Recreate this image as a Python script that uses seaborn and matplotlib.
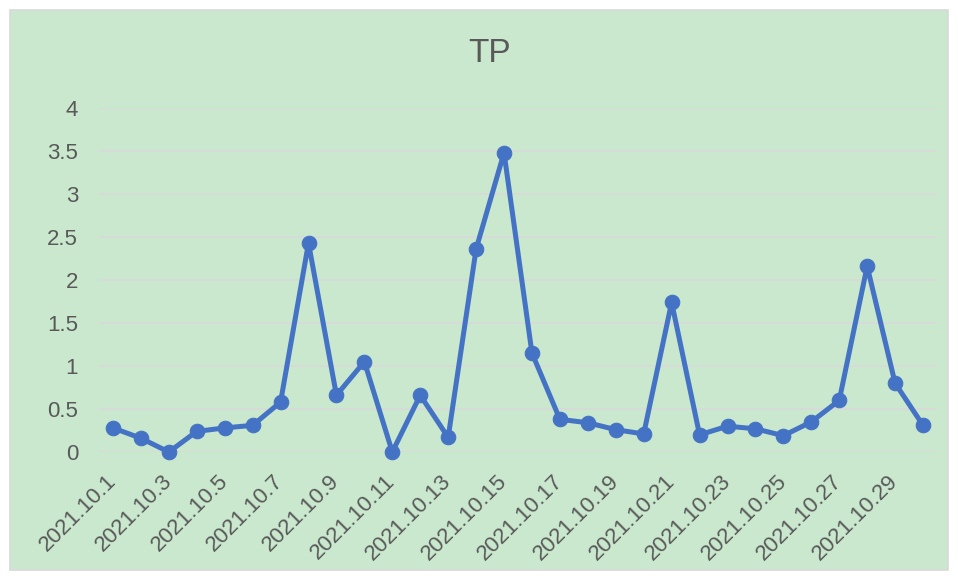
import matplotlib
matplotlib.use("Agg")
import pandas as pd
import seaborn as sns
import matplotlib.pyplot as plt
from matplotlib.patches import Rectangle

# === Data ===
dates = [f"2021.10.{d}" for d in range(1, 31)]
tp = [0.28, 0.16, 0.00, 0.24, 0.28, 0.31, 0.58, 2.43, 0.66, 1.05,
      0.00, 0.66, 0.17, 2.36, 3.48, 1.15, 0.38, 0.34, 0.26, 0.21,
      1.74, 0.20, 0.30, 0.27, 0.19, 0.35, 0.60, 2.16, 0.80, 0.31]
y_ticks = [0, 0.5, 1, 1.5, 2, 2.5, 3, 3.5, 4]
y_labels = ["0", "0.5", "1", "1.5", "2", "2.5", "3", "3.5", "4"]

df = pd.DataFrame({"date": dates, "tp": tp, "idx": range(len(dates))})

# === Style ===
sns.set_theme(style="white")
plt.rcParams["font.family"] = ["Liberation Sans", "DejaVu Sans"]
green = "#C9E8CE"
text_col = "#595959"
line_col = "#4472C4"

fig = plt.figure(figsize=(9.58, 5.80), dpi=100)
fig.patch.set_facecolor("white")
bg = Rectangle((10 / 958, 10 / 580), 938 / 958, 560 / 580,
               transform=fig.transFigure, facecolor=green,
               edgecolor="#D9D9D9", linewidth=1.2, zorder=-10)
fig.add_artist(bg)

ax = fig.add_axes([99 / 958, 128 / 580, 838 / 958, 344 / 580])
ax.set_facecolor("none")
ax.set_zorder(1)

sns.lineplot(data=df, x="idx", y="tp", ax=ax, color=line_col,
             linewidth=3.6, marker="o", markersize=10.5,
             markeredgecolor=line_col, zorder=3, clip_on=False)

ax.set_xlim(-0.5, len(dates) - 0.5)
ax.set_ylim(0, 4)
ax.set_yticks(y_ticks)
ax.set_yticklabels(y_labels, fontsize=16, color=text_col)
ax.set_xticks(range(0, len(dates), 2))
ax.set_xticklabels(dates[::2], fontsize=16, color=text_col,
                   rotation=45, ha="right", va="center",
                   rotation_mode="anchor")
ax.tick_params(axis="y", length=0, pad=15)
ax.tick_params(axis="x", length=0, pad=19)
ax.yaxis.grid(True, color="#D9D9D9", linewidth=1.2)
ax.set_axisbelow(True)
for s in ax.spines.values():
    s.set_visible(False)
ax.set_xlabel("")
ax.set_ylabel("")

fig.text(490 / 958, 1 - 54 / 580, "TP", ha="center", va="center",
         fontsize=24, color=text_col)

fig.savefig("out.png", dpi=100, facecolor="white")
